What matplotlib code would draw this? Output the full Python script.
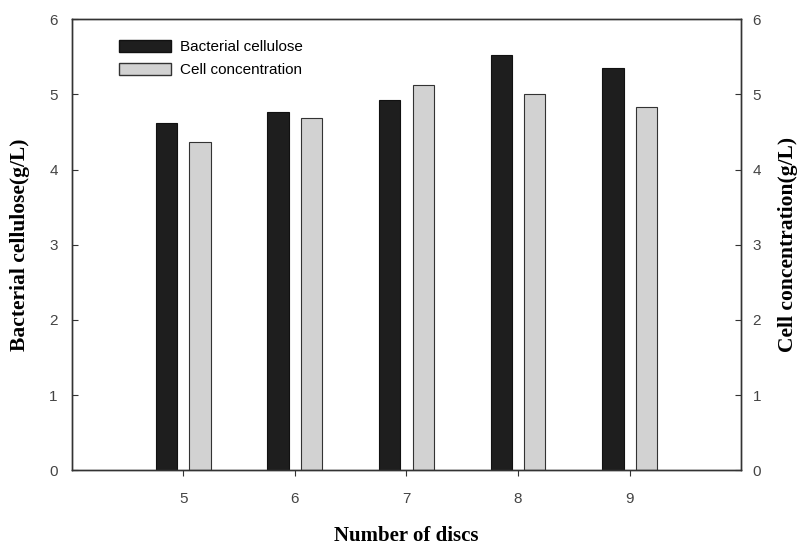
import numpy as np
import matplotlib
matplotlib.use("Agg")
import matplotlib.pyplot as plt
import matplotlib.patches as mpatches

discs = [5, 6, 7, 8, 9]
cellulose = [4.62, 4.77, 4.93, 5.53, 5.35]
cell_conc = [4.36, 4.68, 5.13, 5.01, 4.83]

tick_font = "Liberation Sans"
label_font = "Liberation Serif"

fig = plt.figure(figsize=(8.04, 5.48), dpi=100)
ax = fig.add_axes([0.089, 0.142, 0.833, 0.823])

x = np.array(discs)
w = 0.19
ax.bar(x - 0.15, cellulose, w, color="#1e1e1e", edgecolor="#111111", linewidth=0.8)
ax.bar(x + 0.15, cell_conc, w, color="#d2d2d2", edgecolor="#333333", linewidth=0.8)

ax.set_xlim(4, 10)
ax.set_ylim(0, 6)
ax.set_xticks(discs)
ax.set_yticks(range(0, 7))

for s in ax.spines.values():
    s.set_linewidth(1.0)
    s.set_color("#333333")

ax.tick_params(axis="x", direction="out", length=4, width=0.8, pad=12, colors="#333333")
ax.tick_params(axis="y", direction="in", length=4, width=0.8, pad=10, colors="#333333")
for lab in ax.get_xticklabels() + ax.get_yticklabels():
    lab.set_fontfamily(tick_font)
    lab.set_fontsize(11)
    lab.set_color("#444444")

ax2 = ax.twinx()
ax2.set_ylim(0, 6)
ax2.set_yticks(range(0, 7))
ax2.tick_params(axis="y", direction="in", length=4, width=0.8, pad=8, colors="#333333")
for lab in ax2.get_yticklabels():
    lab.set_fontfamily(tick_font)
    lab.set_fontsize(11)
    lab.set_color("#444444")
for s in ax2.spines.values():
    s.set_linewidth(1.0)
    s.set_color("#333333")

ax.set_xlabel("Number of discs", fontfamily=label_font, fontweight="bold",
              fontsize=15, labelpad=14)
ax.set_ylabel("Bacterial cellulose(g/L)", fontfamily=label_font, fontweight="bold",
              fontsize=15.5, labelpad=14)
ax2.set_ylabel("Cell concentration(g/L)", fontfamily=label_font, fontweight="bold",
               fontsize=15.5, labelpad=12)

h1 = mpatches.Patch(facecolor="#1e1e1e", edgecolor="#111111", label="Bacterial cellulose")
h2 = mpatches.Patch(facecolor="#d2d2d2", edgecolor="#333333", label="Cell concentration")
ax.legend(handles=[h1, h2], loc="upper left", bbox_to_anchor=(0.05, 0.985),
          frameon=False, prop={"family": tick_font, "size": 11},
          handlelength=3.4, handleheight=0.9, handletextpad=0.6, labelspacing=0.55)

fig.savefig("out.png", dpi=100)
